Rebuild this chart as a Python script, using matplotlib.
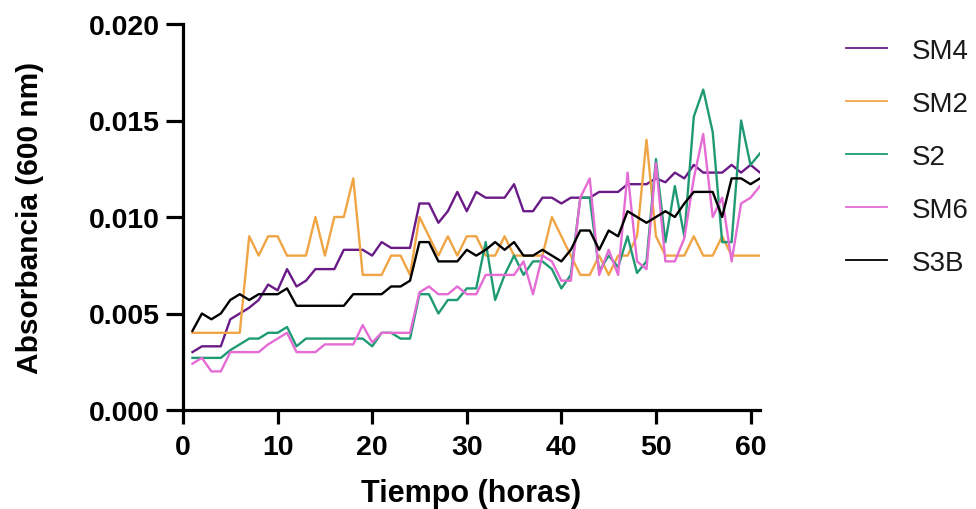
import matplotlib
matplotlib.use("Agg")
import matplotlib.pyplot as plt
from matplotlib.ticker import FormatStrFormatter

plt.rcParams['font.family'] = ['Liberation Sans', 'DejaVu Sans']

# Time (hours) and absorbance readings (x 0.001)
hours = list(range(1, 62))

sm4 = [3.0, 3.3, 3.3, 3.3, 4.7, 5.0, 5.3, 5.7, 6.5, 6.2, 7.3,
       6.4, 6.7, 7.3, 7.3, 7.3, 8.3, 8.3, 8.3, 8.0, 8.7,
       8.4, 8.4, 8.4, 10.7, 10.7, 9.7, 10.3, 11.3, 10.3, 11.3,
       11.0, 11.0, 11.0, 11.7, 10.3, 10.3, 11.0, 11.0, 10.7, 11.0,
       11.0, 11.0, 11.3, 11.3, 11.3, 11.7, 11.7, 11.7, 12.0, 11.8,
       12.3, 12.0, 12.7, 12.3, 12.3, 12.3, 12.7, 12.3, 12.7, 12.3]

sm2 = [4, 4, 4, 4, 4, 4, 9, 8, 9, 9, 8,
       8, 8, 10, 8, 10, 10, 12, 7, 7, 7,
       8, 8, 7, 10, 9, 8, 9, 8, 9, 9,
       8, 8, 9, 8, 8, 8, 8, 10, 9, 8,
       7, 7, 8, 7, 8, 8, 9, 14, 9, 8,
       8, 8, 9, 8, 8, 9, 8, 8, 8, 8]

s2 = [2.7, 2.7, 2.7, 2.7, 3.1, 3.4, 3.7, 3.7, 4.0, 4.0, 4.3,
      3.3, 3.7, 3.7, 3.7, 3.7, 3.7, 3.7, 3.7, 3.3, 4.0,
      4.0, 3.7, 3.7, 6.0, 6.0, 5.0, 5.7, 5.7, 6.3, 6.3,
      8.7, 5.7, 7.0, 8.0, 7.0, 7.7, 7.7, 7.3, 6.3, 7.0,
      11.0, 11.0, 7.2, 8.0, 7.4, 9.0, 7.1, 7.7, 13.0, 8.7,
      11.6, 9.0, 15.2, 16.6, 14.4, 8.7, 8.7, 15.0, 12.7, 13.3]

sm6 = [2.4, 2.7, 2.0, 2.0, 3.0, 3.0, 3.0, 3.0, 3.4, 3.7, 4.0,
       3.0, 3.0, 3.0, 3.4, 3.4, 3.4, 3.4, 4.4, 3.5, 4.0,
       4.0, 4.0, 4.0, 6.1, 6.4, 6.0, 6.0, 6.4, 6.0, 6.0,
       7.0, 7.0, 7.0, 7.0, 7.7, 6.0, 8.0, 7.7, 6.7, 6.7,
       11.0, 12.0, 7.0, 8.3, 7.0, 12.3, 7.7, 7.3, 12.8, 7.7,
       7.7, 8.9, 12.0, 14.3, 10.0, 11.0, 7.7, 10.7, 11.0, 11.6]

s3b = [4.1, 5.0, 4.7, 5.0, 5.7, 6.0, 5.7, 6.0, 6.0, 6.0, 6.3,
       5.4, 5.4, 5.4, 5.4, 5.4, 5.4, 6.0, 6.0, 6.0, 6.0,
       6.4, 6.4, 6.7, 8.7, 8.7, 7.7, 7.7, 7.7, 8.3, 8.0,
       8.3, 8.7, 8.3, 8.7, 8.0, 8.0, 8.3, 8.0, 7.7, 8.3,
       9.3, 9.3, 8.3, 9.3, 9.0, 10.3, 10.0, 9.7, 10.0, 10.3,
       10.0, 10.7, 11.3, 11.3, 11.3, 10.0, 12.0, 12.0, 11.7, 12.0]

series = [("SM4", sm4, "#6a1b87"),
          ("SM2", sm2, "#f0a545"),
          ("S2", s2, "#1f9a74"),
          ("SM6", sm6, "#e46cd4"),
          ("S3B", s3b, "#000000")]

fig = plt.figure(figsize=(9.76, 5.10), dpi=100)
ax = fig.add_axes([183 / 976, 1 - 411 / 510, (760 - 183) / 976, (411 - 25) / 510])

for name, vals, col in series:
    ax.plot(hours, [v / 1000 for v in vals], color=col, lw=1.7, label=name)

ax.set_xlim(0, 61)
ax.set_ylim(0, 0.020)
ax.set_xticks([0, 10, 20, 30, 40, 50, 60])
ax.set_yticks([0, 0.005, 0.010, 0.015, 0.020])
ax.yaxis.set_major_formatter(FormatStrFormatter("%.3f"))

for s in ["top", "right"]:
    ax.spines[s].set_visible(False)
for s in ["left", "bottom"]:
    ax.spines[s].set_linewidth(2.3)

ax.tick_params(axis="both", width=2.3, labelsize=20.5)
ax.tick_params(axis="x", length=10, pad=7)
ax.tick_params(axis="y", length=12, pad=5)
for lab in ax.get_xticklabels() + ax.get_yticklabels():
    lab.set_fontweight("bold")

ax.set_xlabel("Tiempo (horas)", fontsize=22, fontweight="bold", labelpad=13)
ax.set_ylabel("Absorbancia (600 nm)", fontsize=21.5, fontweight="bold", labelpad=32)

leg = fig.legend(loc="upper left", bbox_to_anchor=(846 / 976, 1 - 39 / 510),
                 frameon=False, fontsize=20, handlelength=1.47,
                 handletextpad=0.9, labelspacing=0.97,
                 borderpad=0, borderaxespad=0)
for line in leg.get_lines():
    line.set_linewidth(1.3)
for txt in leg.get_texts():
    txt.set_color("#1a1a1a")

fig.savefig("out.png", dpi=100)
